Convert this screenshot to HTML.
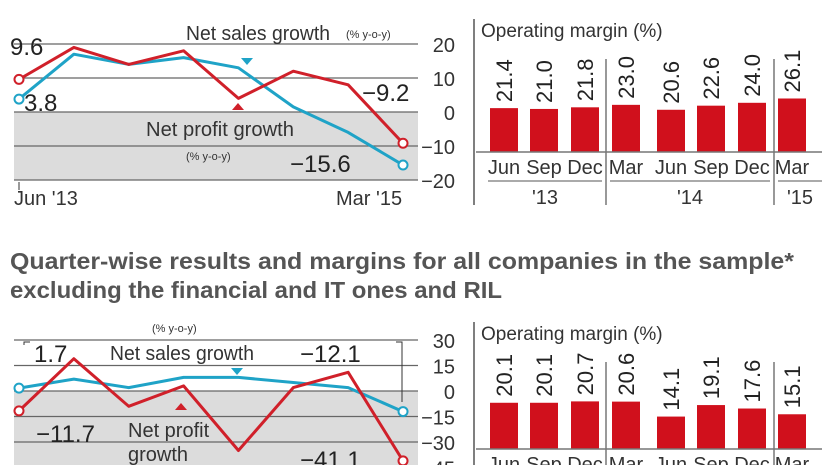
<!DOCTYPE html>
<html><head><meta charset="utf-8">
<style>
body{margin:0;background:#fff;}
svg{display:block;font-family:"Liberation Sans Narrow","Liberation Sans",sans-serif;}
</style></head>
<body>
<svg id="s" width="826" height="465" viewBox="0 0 826 465">
<g>
<rect x="14" y="112" width="404" height="68" fill="#dcdcdc"/>
<g id="g1grid"></g>
<g id="g1lines"></g>
<text x="186" y="40" font-size="20" fill="#333" textLength="144" lengthAdjust="spacingAndGlyphs">Net sales growth</text>
<text x="346" y="38" font-size="11" fill="#333">(% y-o-y)</text>
<path d="M241,58 l12,0 l-6,7z" fill="#1fa3c7"/>
<path d="M232,110 l12,0 l-6,-7z" fill="#d0202a"/>
<text x="146" y="136" font-size="20" fill="#333" textLength="148" lengthAdjust="spacingAndGlyphs">Net profit growth</text>
<text x="186" y="160" font-size="11" fill="#333">(% y-o-y)</text>
<text x="10" y="55" font-size="24" fill="#222">9.6</text>
<text x="24" y="111" font-size="24" fill="#222">3.8</text>
<text x="362" y="101" font-size="24" fill="#222">−9.2</text>
<text x="290" y="172" font-size="24" fill="#222">−15.6</text>
<line x1="19" y1="182" x2="19" y2="190" stroke="#333"/>
<text x="14" y="205" font-size="20" fill="#333">Jun '13</text>
<text x="336" y="205" font-size="20" fill="#333">Mar '15</text>
</g>
<g>
<rect x="14" y="391" width="404" height="74" fill="#dcdcdc"/>
<g id="g2grid"></g>
<g id="g2lines"></g>
<text x="152" y="332" font-size="11" fill="#333">(% y-o-y)</text>
<text x="110" y="360" font-size="20" fill="#333" textLength="144" lengthAdjust="spacingAndGlyphs">Net sales growth</text>
<path d="M231,368 l12,0 l-6,7z" fill="#1fa3c7"/>
<path d="M175,410 l12,0 l-6,-7z" fill="#d0202a"/>
<text x="128" y="437" font-size="20" fill="#333">Net profit</text>
<text x="128" y="461" font-size="20" fill="#333">growth</text>
<text x="34" y="362" font-size="24" fill="#222">1.7</text>
<path d="M24,345 l0,-3 l6,0" fill="none" stroke="#333"/>
<text x="36" y="442" font-size="24" fill="#222">−11.7</text>
<text x="300" y="362" font-size="24" fill="#222">−12.1</text>
<path d="M396,342 l6,0 l0,60" fill="none" stroke="#333"/>
<text x="300" y="468" font-size="24" fill="#222">−41.1</text>
</g>
<g>
<text x="10" y="269" font-size="23" font-weight="bold" fill="#555" textLength="784" lengthAdjust="spacingAndGlyphs">Quarter-wise results and margins for all companies in the sample*</text>
<text x="10" y="298" font-size="23" font-weight="bold" fill="#555" textLength="492" lengthAdjust="spacingAndGlyphs">excluding the financial and IT ones and RIL</text>
</g>
<g id="bars1"></g>
<g id="bars2"></g>
</svg>
<script>
const quarters=["Jun","Sep","Dec","Mar","Jun","Sep","Dec","Mar"];
const years=["'13","'14","'15"];
const salesTop=[9.6,19,14,18,4,12,8,-9.2];
const profitTop=[3.8,17,14,16,13,1.5,-6,-15.6];
const ticksTop=[20,10,0,-10,-20];
const salesBot=[-11.7,19,-9,3,-35,2,11,-41.1];
const profitBot=[1.7,7,2,8,8,5,2,-12.1];
const ticksBot=[30,15,0,-15,-30,-45];
const marginTop=[21.4,21.0,21.8,23.0,20.6,22.6,24.0,26.1];
const marginBot=[20.1,20.1,20.7,20.6,14.1,19.1,17.6,15.1];
const NS="http://www.w3.org/2000/svg";
function mk(t,a,p){const e=document.createElementNS(NS,t);for(const k in a)e.setAttribute(k,a[k]);p.appendChild(e);return e;}
const xL=i=>19+i*54.86;
function lineChart(gridId,linesId,ticks,y0,k,s1,s2){
 const y=v=>y0-v*k;
 const g=document.getElementById(gridId),L=document.getElementById(linesId);
 ticks.forEach(t=>{
  const l=mk('line',{x1:14,x2:418,y1:y(t),y2:y(t),stroke:'#666','stroke-width':1.2},g);
  
  
  const tx=mk('text',{x:455,y:y(t)+8,'font-size':20,fill:'#333','text-anchor':'end'},g);
  
  
  tx.textContent=t<0?'−'+(-t):String(t);
 });
 [[s2,'#1fa3c7','sales-line'],[s1,'#d0202a','profit-line']].forEach(([s,c,n])=>{
  const p=mk('polyline',{points:s.map((v,i)=>xL(i)+','+y(v)).join(' '),fill:'none',stroke:c,'stroke-width':3,'stroke-linejoin':'round'},L);
  
  
  [0,s.length-1].forEach(i=>{
   const ci=mk('circle',{cx:xL(i),cy:y(s[i]),r:4.5,fill:'#fff',stroke:c,'stroke-width':2},L);
   
   
  });
 });
}
lineChart('g1grid','g1lines',ticksTop,112,3.4,salesTop,profitTop);
lineChart('g2grid','g2lines',ticksBot,391,1.7,salesBot,profitBot);
const bx=[490,530,571,612,657,697,738,778];
function bars(id,vals,base,k,top,showX){
 const g=document.getElementById(id);
 mk('line',{x1:474,x2:474,y1:top-18,y2:showX?205:465,stroke:'#555','stroke-width':1.5},g);
 const t=mk('text',{x:481,y:top,'font-size':19,fill:'#333'},g);
 
 
 t.textContent='Operating margin (%)';
 [606,774].forEach(x=>{mk('line',{x1:x,x2:x,y1:top+22,y2:showX?205:465,stroke:'#555','stroke-width':1.2},g);});
 vals.forEach((v,i)=>{
  const h=v*k;
  const r=mk('rect',{x:bx[i],y:base-h,width:28,height:h,fill:'#d0101c'},g);
  
  
  const tx=mk('text',{x:0,y:0,'font-size':22,fill:'#222',transform:'translate('+(bx[i]+22)+','+(base-h-6)+') rotate(-90)'},g);
  
  
  tx.textContent=v.toFixed(1);
  const q=mk('text',{x:bx[i]+14,y:base+22,'font-size':20,fill:'#333','text-anchor':'middle'},g);
  
  
  q.textContent=quarters[i];
 });
 mk('line',{x1:476,x2:822,y1:base,y2:base,stroke:'#777','stroke-width':1.5},g);
 if(showX){
  [[488,602],[610,770],[778,822]].forEach(([a,b],j)=>{
   mk('line',{x1:a,x2:b,y1:181,y2:181,stroke:'#555'},g);
   const yt=mk('text',{x:(a+b)/2,y:204,'font-size':20,fill:'#333','text-anchor':'middle'},g);
   
   
   yt.textContent=years[j];
  });
 }
}
bars('bars1',marginTop,152,2.05,37,true);
bars('bars2',marginBot,449,2.3,340,false);
</script>
</body></html>
